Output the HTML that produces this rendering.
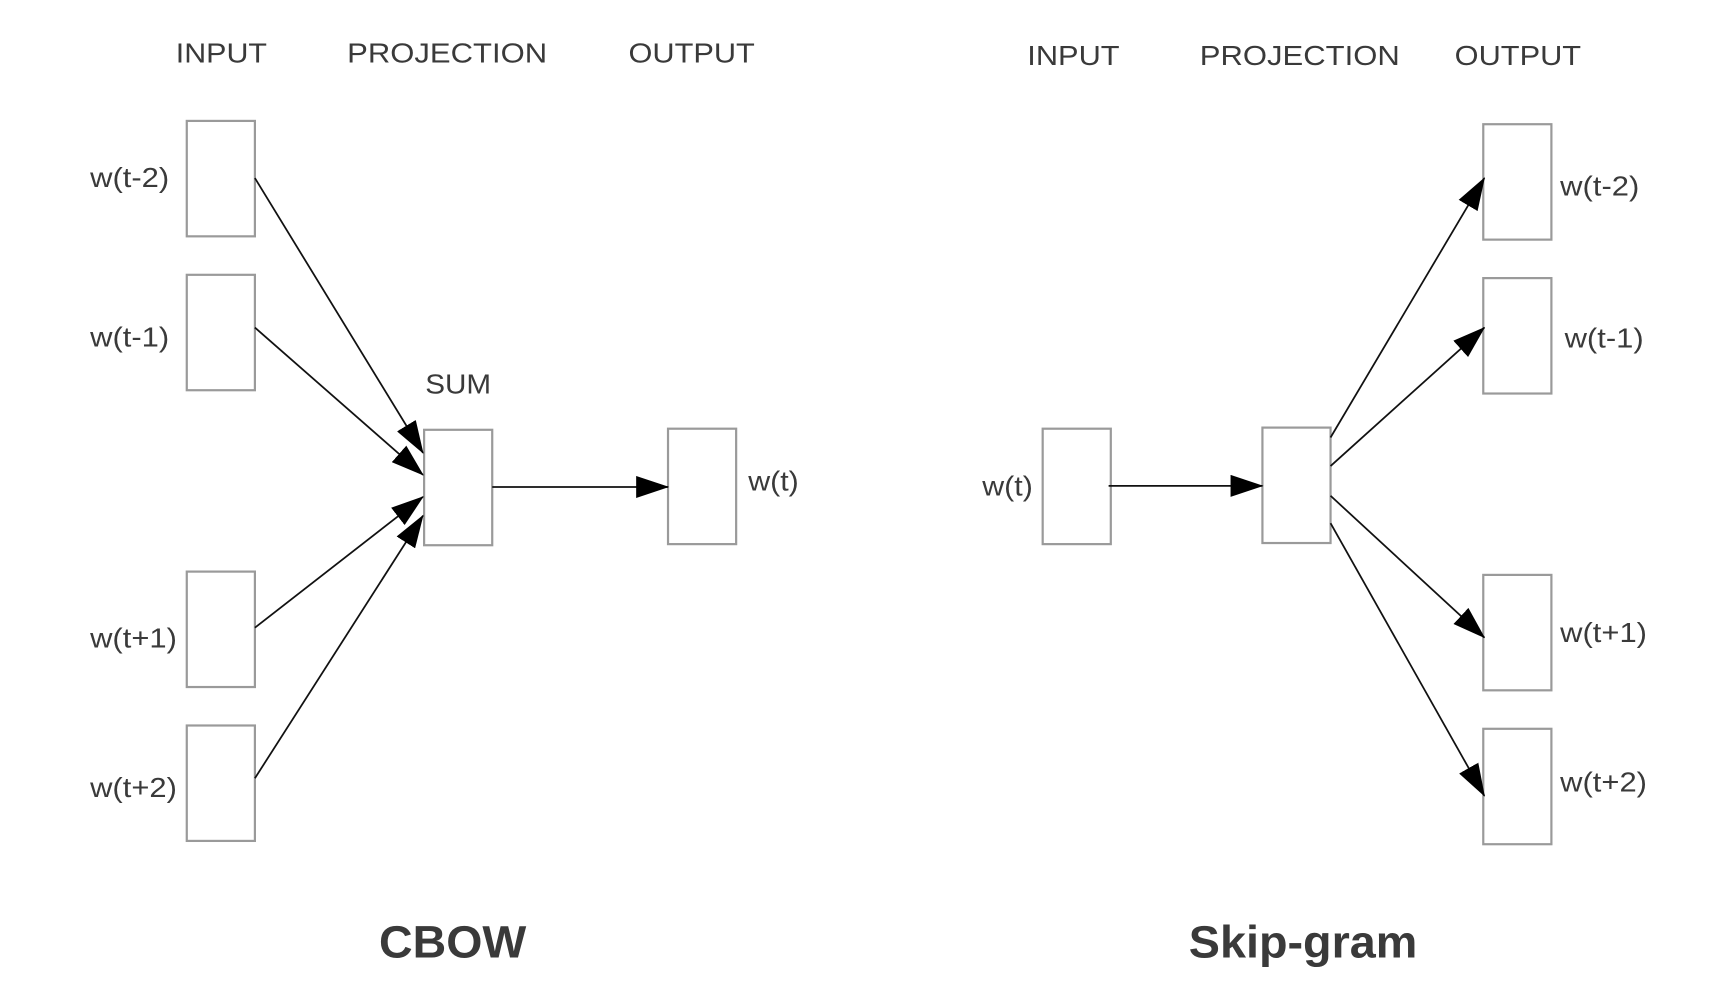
<!DOCTYPE html>
<html><head><meta charset="utf-8"><style>
html,body{margin:0;padding:0;background:#fff;}
svg{display:block;}
text{font-family:"Liberation Sans",Arial,sans-serif;fill:#3a3a3a;}
.l{font-size:25px;}
.t{font-size:41px;font-weight:bold;}
rect{fill:#fff;stroke:#9a9a9a;stroke-width:2;}
line{stroke:#111;stroke-width:1.6;}
</style></head><body>
<svg width="1714" height="1008" viewBox="0 0 1560 917" preserveAspectRatio="none" xmlns="http://www.w3.org/2000/svg">
<defs><marker id="a" markerWidth="30" markerHeight="20" refX="29" refY="10" orient="auto" markerUnits="userSpaceOnUse"><path d="M0,0 L30,10 L0,20 z" fill="#000"/></marker></defs>
<!-- CBOW -->
<text class="l" x="160" y="57" textLength="83" lengthAdjust="spacingAndGlyphs">INPUT</text>
<text class="l" x="316" y="57" textLength="182" lengthAdjust="spacingAndGlyphs">PROJECTION</text>
<text class="l" x="572" y="57" textLength="115" lengthAdjust="spacingAndGlyphs">OUTPUT</text>
<rect x="170" y="110" width="62" height="105"/>
<rect x="170" y="250" width="62" height="105"/>
<rect x="170" y="520" width="62" height="105"/>
<rect x="170" y="660" width="62" height="105"/>
<rect x="386" y="391" width="62" height="105"/>
<rect x="608" y="390" width="62" height="105"/>
<text class="l" x="82" y="170" textLength="72" lengthAdjust="spacingAndGlyphs">w(t-2)</text>
<text class="l" x="82" y="315" textLength="72" lengthAdjust="spacingAndGlyphs">w(t-1)</text>
<text class="l" x="82" y="589" textLength="79" lengthAdjust="spacingAndGlyphs">w(t+1)</text>
<text class="l" x="82" y="725" textLength="79" lengthAdjust="spacingAndGlyphs">w(t+2)</text>
<text class="l" x="387" y="358" textLength="60" lengthAdjust="spacingAndGlyphs">SUM</text>
<text class="l" x="681" y="446" textLength="46" lengthAdjust="spacingAndGlyphs">w(t)</text>
<line x1="232" y1="162" x2="385" y2="412" marker-end="url(#a)"/>
<line x1="232" y1="298" x2="385" y2="432" marker-end="url(#a)"/>
<line x1="232" y1="571" x2="385" y2="452" marker-end="url(#a)"/>
<line x1="232" y1="708" x2="385" y2="469" marker-end="url(#a)"/>
<line x1="448" y1="443" x2="608" y2="443" marker-end="url(#a)"/>
<text class="t" x="412" y="871" text-anchor="middle" textLength="134" lengthAdjust="spacingAndGlyphs">CBOW</text>
<!-- Skip-gram -->
<g transform="translate(-6,0)">
<text class="l" x="941" y="59" textLength="84" lengthAdjust="spacingAndGlyphs">INPUT</text>
<text class="l" x="1098" y="59" textLength="182" lengthAdjust="spacingAndGlyphs">PROJECTION</text>
<text class="l" x="1330" y="59" textLength="115" lengthAdjust="spacingAndGlyphs">OUTPUT</text>
<rect x="955" y="390" width="62" height="105"/>
<rect x="1155" y="389" width="62" height="105"/>
<rect x="1356" y="113" width="62" height="105"/>
<rect x="1356" y="253" width="62" height="105"/>
<rect x="1356" y="523" width="62" height="105"/>
<rect x="1356" y="663" width="62" height="105"/>
<text class="l" x="900" y="451" textLength="46" lengthAdjust="spacingAndGlyphs">w(t)</text>
<text class="l" x="1426" y="178" textLength="72" lengthAdjust="spacingAndGlyphs">w(t-2)</text>
<text class="l" x="1430" y="316" textLength="72" lengthAdjust="spacingAndGlyphs">w(t-1)</text>
<text class="l" x="1426" y="584" textLength="79" lengthAdjust="spacingAndGlyphs">w(t+1)</text>
<text class="l" x="1426" y="720" textLength="79" lengthAdjust="spacingAndGlyphs">w(t+2)</text>
<line x1="1015" y1="442" x2="1155" y2="442" marker-end="url(#a)"/>
<line x1="1217" y1="398" x2="1357" y2="162" marker-end="url(#a)"/>
<line x1="1217" y1="424" x2="1357" y2="298" marker-end="url(#a)"/>
<line x1="1217" y1="451" x2="1357" y2="580" marker-end="url(#a)"/>
<line x1="1217" y1="476" x2="1357" y2="724" marker-end="url(#a)"/>
<text class="t" x="1192" y="871" text-anchor="middle" textLength="208" lengthAdjust="spacingAndGlyphs">Skip-gram</text>
</g>
</svg>
</body></html>
